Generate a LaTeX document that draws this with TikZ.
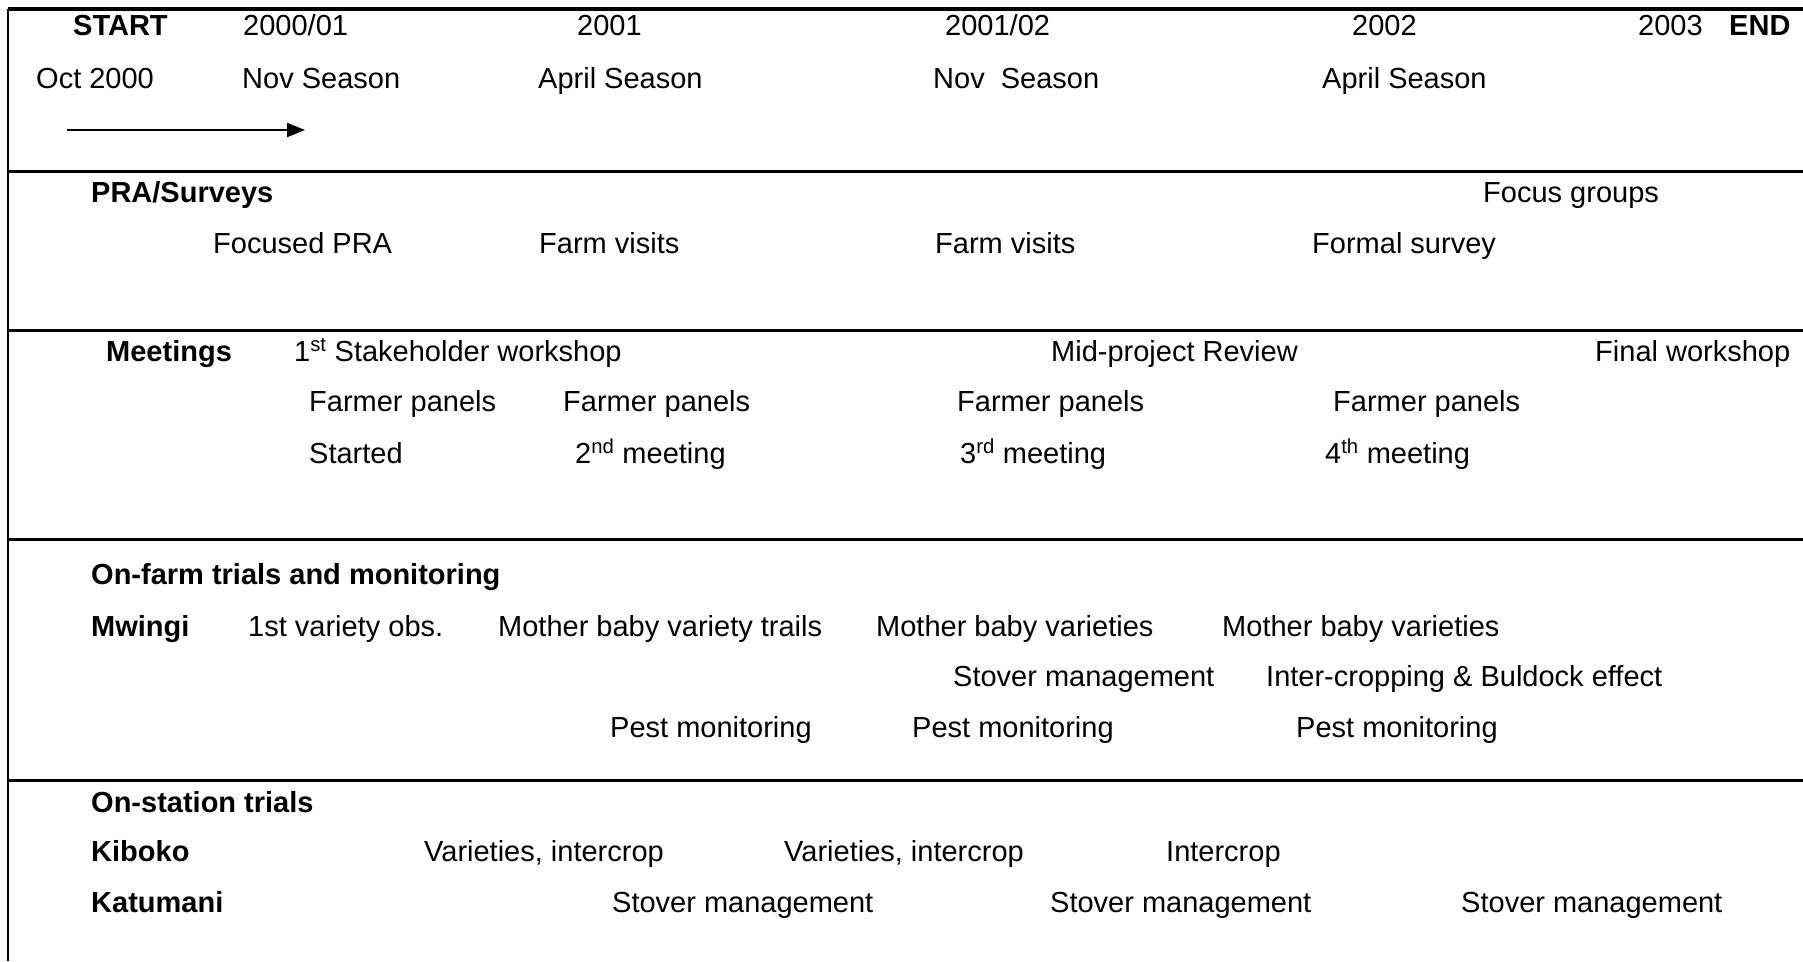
\documentclass[tikz,border=0pt]{standalone}
\usepackage{fontspec}
\setmainfont{Liberation Sans}
\usetikzlibrary{arrows.meta}
\tikzset{
  lbl/.style={anchor=base west, inner sep=0pt, font=\fontsize{29}{34}\selectfont},
  hdr/.style={lbl, font=\fontsize{29}{34}\selectfont\bfseries},
  rule/.style={line width=3pt}
}
\begin{document}
\begin{tikzpicture}[x=1pt, y=-1pt]
    \useasboundingbox (0,0) rectangle (1803,961);
    % frame and section rules
    \coordinate (F0) at (8,9);
    \coordinate (F1) at (1803,9);
    \coordinate (F2) at (8,961);
    \draw[rule, line width=3.5pt] (F0) -- (F1);
    \draw[rule, line width=2.5pt] (F0) -- (F2);
    \foreach \r in {171,330,539,780} {
      \draw[rule] (8,\r) -- (1803,\r);
    }
    % time line
    \node[hdr] (start) at (73,35) {START};
    \node[lbl] (Y0001) at (243,35) {2000/01};
    \node[lbl] (Y01) at (577,35) {2001};
    \node[lbl] (Y0102) at (945,35) {2001/02};
    \node[lbl] (Y02) at (1352,35) {2002};
    \node[lbl] (Y03) at (1638,35) {2003};
    \node[hdr] (end) at (1729,35) {END};
    \node[lbl] (S0) at (36,88) {Oct 2000};
    \node[lbl] (S1) at (242,88) {Nov Season};
    \node[lbl] (S2) at (538,88) {April Season};
    \node[lbl] (S3) at (933,88) {Nov\ \ Season};
    \node[lbl] (S4) at (1322,88) {April Season};
    \coordinate (T0) at (67,130);
    \coordinate (T1) at (305,130);
    \draw[line width=2pt, -{Triangle[length=18pt,width=14pt]}] (T0) -- (T1);
    % PRA/Surveys
    \node[hdr] (pra) at (91,202) {PRA/Surveys};
    \node[lbl] (P0) at (1483,202) {Focus groups};
    \node[lbl] (P1) at (213,253) {Focused PRA};
    \node[lbl] (P2) at (539,253) {Farm visits};
    \node[lbl] (P3) at (935,253) {Farm visits};
    \node[lbl] (P4) at (1312,253) {Formal survey};
    % Meetings
    \node[hdr] (meet) at (106,361) {Meetings};
    \node[lbl] (M0) at (294,361) {1\textsuperscript{st} Stakeholder workshop};
    \node[lbl] (M1) at (1051,361) {Mid-project Review};
    \node[lbl] (M2) at (1595,361) {Final workshop};
    \node[lbl] (M3) at (309,411) {Farmer panels};
    \node[lbl] (M4) at (563,411) {Farmer panels};
    \node[lbl] (M5) at (957,411) {Farmer panels};
    \node[lbl] (M6) at (1333,411) {Farmer panels};
    \node[lbl] (M7) at (309,463) {Started};
    \node[lbl] (M8) at (575,463) {2\textsuperscript{nd} meeting};
    \node[lbl] (M9) at (960,463) {3\textsuperscript{rd} meeting};
    \node[lbl] (M10) at (1325,463) {4\textsuperscript{th} meeting};
    % On-farm trials
    \node[hdr] (farm) at (91,584) {On-farm trials and monitoring};
    \node[hdr] (mwi) at (91,636) {Mwingi};
    \node[lbl] (W0) at (248,636) {1st variety obs.};
    \node[lbl] (W1) at (498,636) {Mother baby variety trails};
    \node[lbl] (W2) at (876,636) {Mother baby varieties};
    \node[lbl] (W3) at (1222,636) {Mother baby varieties};
    \node[lbl] (W4) at (953,686) {Stover management};
    \node[lbl] (W5) at (1266,686) {Inter-cropping \& Buldock effect};
    \node[lbl] (W6) at (610,737) {Pest monitoring};
    \node[lbl] (W7) at (912,737) {Pest monitoring};
    \node[lbl] (W8) at (1296,737) {Pest monitoring};
    % On-station trials
    \node[hdr] (stat) at (91,812) {On-station trials};
    \node[hdr] (kib) at (91,861) {Kiboko};
    \node[lbl] (K0) at (424,861) {Varieties, intercrop};
    \node[lbl] (K1) at (784,861) {Varieties, intercrop};
    \node[lbl] (K2) at (1166,861) {Intercrop};
    \node[hdr] (kat) at (91,912) {Katumani};
    \node[lbl] (K3) at (612,912) {Stover management};
    \node[lbl] (K4) at (1050,912) {Stover management};
    \node[lbl] (K5) at (1461,912) {Stover management};
\end{tikzpicture}
\end{document}
